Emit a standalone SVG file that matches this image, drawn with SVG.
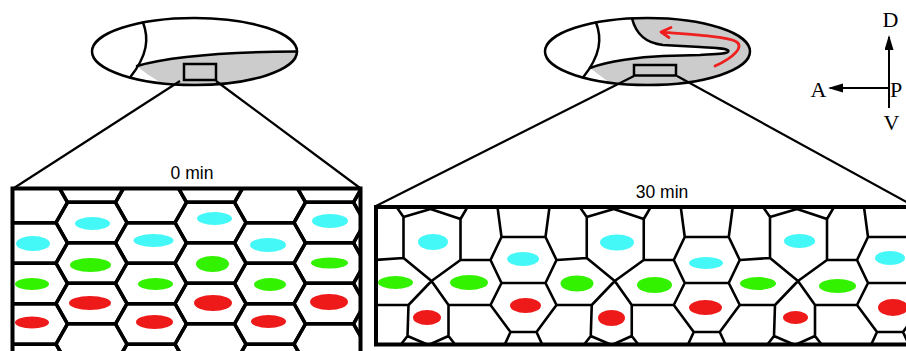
<svg xmlns="http://www.w3.org/2000/svg" width="906" height="351" viewBox="0 0 906 351">
<style>
.ol{fill:none;stroke:#000;stroke-width:2.5;stroke-linejoin:round;stroke-linecap:round}
.sq{fill:#ccc;stroke:#000;stroke-width:2.5}
.hex{fill:none;stroke:#000;stroke-width:3.5;stroke-linejoin:round}
.cell{fill:none;stroke:#000;stroke-width:2.6;stroke-linejoin:round;stroke-linecap:round}
.frame{fill:none;stroke:#000;stroke-width:4}
.zoom{fill:none;stroke:#000;stroke-width:2.2}
.cy{fill:#44f8f8}.gr{fill:#33f200}.rd{fill:#ee1a1a}
.lbl{font-family:"Liberation Sans",Arial,sans-serif;font-size:17.5px;fill:#000;text-anchor:middle}
.ax{font-family:"Liberation Serif","Times New Roman",serif;font-size:22px;fill:#000}
.axl{stroke:#000;stroke-width:2;fill:none}
</style>
<defs>
  <!-- flat-topped hexagonal cell for the 0 min epithelium -->
  <path id="hx" d="M35.5,0 L24,20.25 H-24 L-35.5,0 L-24,-20.25 H24 Z"/>
  <!-- one repeat of the rearranged 30 min epithelium -->
  <path id="unit" d="M763,207 L770,217 L797,209 L827,219 L834,207
    M770,217 L770,258 L798,281 L827,260 L827,219
    M740,260 L770,258 M827,260 L857,260
    M798,281 L775,305 L774,336 M798,281 L815,305 L815,336
    M740,305 L775,305 M815,305 L857,305
    M767,345 L774,336 L795,345 L815,336 L822,345
    M864,207 L868,237 L912,237 L916,207
    M868,237 L857,260 L868,283 L912,283 L923,260 L912,237
    M868,283 L857,305 L877,332 L903,332 L923,305 L912,283
    M877,332 L871,345 M903,332 L909,345"/>
  <marker id="arr" markerUnits="userSpaceOnUse" markerWidth="16" markerHeight="10" refX="13" refY="4.5" orient="auto">
    <path d="M0,0 L15,4.5 L0,9 Z" fill="#000"/>
  </marker>
  <clipPath id="clipEgg30"><ellipse cx="647.5" cy="51.5" rx="102.5" ry="33.5"/></clipPath>
  <clipPath id="clip0"><rect x="12.5" y="188.5" width="348" height="170"/></clipPath>
  <clipPath id="clip30"><rect x="376" y="207" width="540" height="137.5"/></clipPath>
</defs>

<rect width="906" height="351" fill="#fff"/>

<!-- embryo at 0 min -->
<g id="embryo-0">
  <ellipse cx="194.5" cy="51.5" rx="102.5" ry="33.5" fill="#fff"/>
  <path d="M137,66 C165,58 220,52 297,51.5 A102.5,33.5 0 0 1 163,83.4 C152,78 144,72 137,66 Z" fill="#ccc"/>
  <path class="ol" d="M137,66 C165,58 220,52 297,51.5"/>
  <path class="ol" d="M143,22.5 C149,38 148,55 130,77.5"/>
  <ellipse class="ol" cx="194.5" cy="51.5" rx="102.5" ry="33.5"/>
  <rect class="sq" x="184" y="64" width="32" height="16"/>
</g>

<!-- embryo at 30 min -->
<g id="embryo-30">
  <ellipse cx="647.5" cy="51.5" rx="102.5" ry="33.5" fill="#ccc"/>
  <path clip-path="url(#clipEgg30)" fill="#fff" d="M540,0 L632,0 L632,18.4 C636,34 645,43 663,45 L700,47 C716,48 727,48 728.5,51 C728,54 718,54 700,55 L663,56 C640,57 608,61 590,68 L614,86 L540,100 Z"/>
  <path class="ol" d="M632,18.4 C636,34 645,43 663,45 L700,47 C716,48 727,48 728.5,51 C728,54 718,54 700,55 L663,56 C640,57 608,61 590,68"/>
  <path class="ol" d="M596,22.5 C602,38 601,55 583,77.5"/>
  <ellipse class="ol" cx="647.5" cy="51.5" rx="102.5" ry="33.5"/>
  <rect class="sq" x="634" y="65" width="42" height="10.5"/>
  <path d="M715,66 C733,58 746,46 735,41 C727,37 700,35 662,32 M671,27.5 L661,32 L669,37.5" fill="none" stroke="#ee2020" stroke-width="2.8" stroke-linecap="round" stroke-linejoin="round"/>
</g>

<!-- zoom lines from the boxed regions to the panels -->
<g id="connectors" class="zoom">
  <path d="M180,81 L14,188"/>
  <path d="M216,81 L360,188"/>
  <path d="M634,76 L376,206"/>
  <path d="M677,76 L910,204"/>
</g>

<text class="lbl" x="192" y="179">0 min</text>
<text class="lbl" x="662" y="198">30 min</text>

<!-- epithelium at 0 min: regular hexagonal packing -->
<g id="panel-0">
  <g clip-path="url(#clip0)">
    <g class="hex">
      <use href="#hx" x="-27.5" y="182"/><use href="#hx" x="-27.5" y="222.5"/><use href="#hx" x="-27.5" y="263"/><use href="#hx" x="-27.5" y="303.5"/><use href="#hx" x="-27.5" y="344"/>
      <use href="#hx" x="32" y="202.5"/><use href="#hx" x="32" y="243"/><use href="#hx" x="32" y="283.5"/><use href="#hx" x="32" y="324"/><use href="#hx" x="32" y="364.5"/>
      <use href="#hx" x="91.5" y="182"/><use href="#hx" x="91.5" y="222.5"/><use href="#hx" x="91.5" y="263"/><use href="#hx" x="91.5" y="303.5"/><use href="#hx" x="91.5" y="344"/>
      <use href="#hx" x="151" y="202.5"/><use href="#hx" x="151" y="243"/><use href="#hx" x="151" y="283.5"/><use href="#hx" x="151" y="324"/><use href="#hx" x="151" y="364.5"/>
      <use href="#hx" x="210.5" y="182"/><use href="#hx" x="210.5" y="222.5"/><use href="#hx" x="210.5" y="263"/><use href="#hx" x="210.5" y="303.5"/><use href="#hx" x="210.5" y="344"/>
      <use href="#hx" x="270" y="202.5"/><use href="#hx" x="270" y="243"/><use href="#hx" x="270" y="283.5"/><use href="#hx" x="270" y="324"/><use href="#hx" x="270" y="364.5"/>
      <use href="#hx" x="329.5" y="182"/><use href="#hx" x="329.5" y="222.5"/><use href="#hx" x="329.5" y="263"/><use href="#hx" x="329.5" y="303.5"/><use href="#hx" x="329.5" y="344"/>
      <use href="#hx" x="389" y="202.5"/><use href="#hx" x="389" y="243"/><use href="#hx" x="389" y="283.5"/><use href="#hx" x="389" y="324"/><use href="#hx" x="389" y="364.5"/>
    </g>
    <ellipse class="cy" cx="92.5" cy="223.5" rx="17.5" ry="6.5"/>
    <ellipse class="cy" cx="214.5" cy="218.5" rx="17.5" ry="6.5"/>
    <ellipse class="cy" cx="330" cy="221" rx="18" ry="7"/>
    <ellipse class="cy" cx="33" cy="243.5" rx="17" ry="7.5"/>
    <ellipse class="cy" cx="153.5" cy="240.5" rx="20" ry="6.5"/>
    <ellipse class="cy" cx="268" cy="245" rx="18" ry="7"/>
    <ellipse class="gr" cx="90.5" cy="265" rx="20.5" ry="7"/>
    <ellipse class="gr" cx="212.5" cy="264" rx="16.5" ry="8"/>
    <ellipse class="gr" cx="329.5" cy="263" rx="18.5" ry="5.5"/>
    <ellipse class="gr" cx="32" cy="284" rx="17" ry="6"/>
    <ellipse class="gr" cx="155.5" cy="284" rx="17.5" ry="6"/>
    <ellipse class="gr" cx="270" cy="284.5" rx="16" ry="6.5"/>
    <ellipse class="rd" cx="90" cy="303" rx="21" ry="7"/>
    <ellipse class="rd" cx="213" cy="303" rx="19" ry="8"/>
    <ellipse class="rd" cx="329" cy="302" rx="19" ry="8"/>
    <ellipse class="rd" cx="32" cy="322.5" rx="17" ry="6"/>
    <ellipse class="rd" cx="154.5" cy="322" rx="18.5" ry="7"/>
    <ellipse class="rd" cx="268.5" cy="321.5" rx="17.5" ry="6.5"/>
  </g>
  <path class="frame" d="M12.5,360 V188.5 H360.5 V360"/>
</g>

<!-- epithelium at 30 min: rosettes and intercalated rows -->
<g id="panel-30">
  <g clip-path="url(#clip30)">
    <g class="cell">
      <use href="#unit" x="-549.75"/>
      <use href="#unit" x="-366.5"/>
      <use href="#unit" x="-183.25"/>
      <use href="#unit"/>
    </g>
    <ellipse class="cy" cx="433" cy="242" rx="15" ry="8"/>
    <ellipse class="cy" cx="523" cy="259" rx="16" ry="7"/>
    <ellipse class="cy" cx="617" cy="242.5" rx="17" ry="8"/>
    <ellipse class="cy" cx="706" cy="263" rx="17" ry="6"/>
    <ellipse class="cy" cx="799.5" cy="241" rx="15.5" ry="7"/>
    <ellipse class="cy" cx="890" cy="258" rx="15" ry="7"/>
    <ellipse class="gr" cx="395.5" cy="282.5" rx="17.5" ry="6.5"/>
    <ellipse class="gr" cx="469" cy="282.5" rx="19" ry="7.5"/>
    <ellipse class="gr" cx="577" cy="283.5" rx="16.5" ry="8"/>
    <ellipse class="gr" cx="654.5" cy="285" rx="17.5" ry="8"/>
    <ellipse class="gr" cx="758" cy="283.5" rx="18" ry="6.5"/>
    <ellipse class="gr" cx="837.5" cy="286" rx="18.5" ry="7"/>
    <ellipse class="rd" cx="427" cy="317.5" rx="14" ry="7.5"/>
    <ellipse class="rd" cx="525.5" cy="305.5" rx="15.5" ry="7.5"/>
    <ellipse class="rd" cx="611.5" cy="318" rx="13.5" ry="8"/>
    <ellipse class="rd" cx="705.5" cy="307.5" rx="16.5" ry="7.5"/>
    <ellipse class="rd" cx="795.5" cy="317.5" rx="12.5" ry="6.5"/>
    <ellipse class="rd" cx="893" cy="307.5" rx="15" ry="8.5"/>
  </g>
  <rect class="frame" x="376" y="207" width="560" height="137.5"/>
</g>

<!-- body axes -->
<g id="axes">
  <line class="axl" x1="889" y1="108" x2="889" y2="37" marker-end="url(#arr)"/>
  <line class="axl" x1="888" y1="88" x2="830" y2="88" marker-end="url(#arr)"/>
  <text class="ax" x="890.5" y="27" text-anchor="middle">D</text>
  <text class="ax" x="818.5" y="97" text-anchor="middle">A</text>
  <text class="ax" x="890" y="97">P</text>
  <text class="ax" x="891.5" y="130" text-anchor="middle">V</text>
</g>
</svg>
